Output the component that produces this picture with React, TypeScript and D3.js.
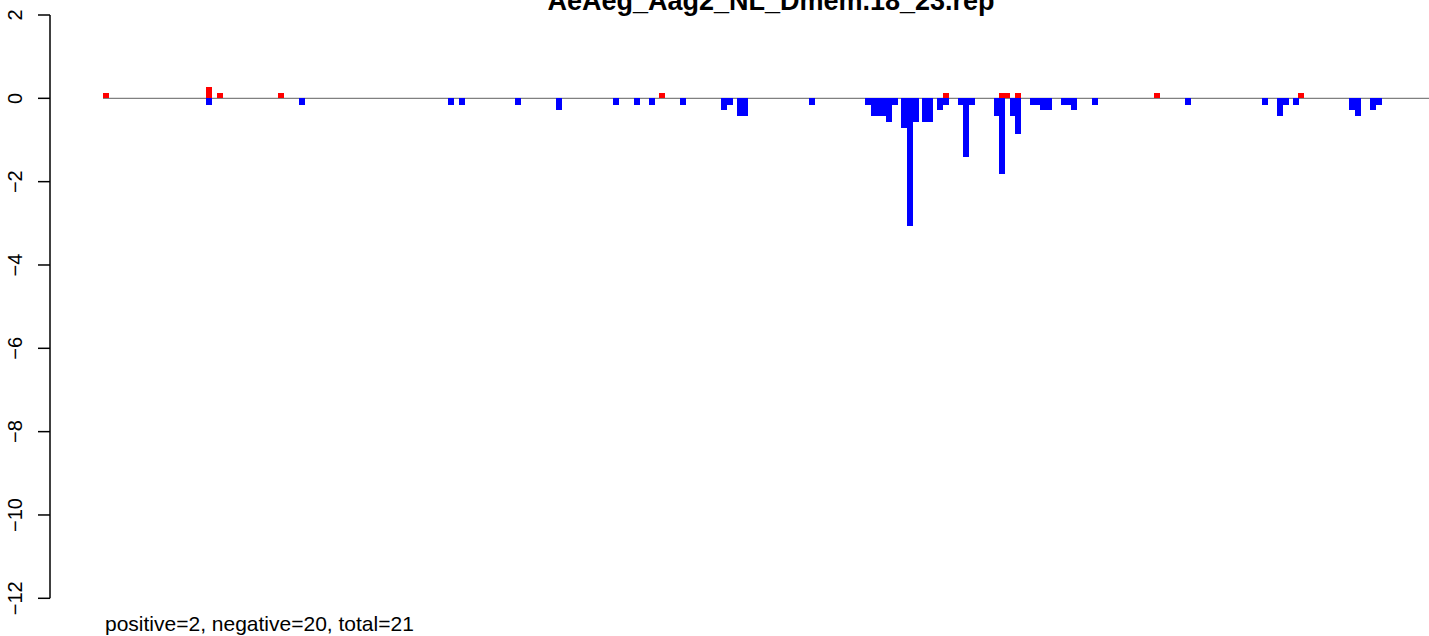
import React from "react";
import * as d3 from "d3";

const title = "AeAeg_Aag2_NL_Dmem.18_23.rep";
const footer = "positive=2, negative=20, total=21";
const yTicks = [2, 0, -2, -4, -6, -8, -10, -12];

// positive (sense) bars: start position, value
const posStarts = [53, 156, 167, 228, 609, 893, 949, 954, 965, 1104, 1248];
const posValues = [0.13, 0.27, 0.13, 0.13, 0.13, 0.13, 0.13, 0.13, 0.13, 0.13, 0.13];

// negative (antisense) bars: start position, value
const negStarts = [
  156, 249, 398, 409, 465, 506, 563, 584, 599, 630, 671, 677, 687, 692, 759,
  815, 821, 826, 831, 836, 842, 851, 857, 863, 872, 877, 887, 893, 908, 913,
  919, 944, 949, 960, 965, 980, 985, 990, 996, 1011, 1016, 1021, 1042, 1135,
  1212, 1227, 1233, 1243, 1299, 1305, 1320, 1326,
];
const negValues = [
  -0.15, -0.15, -0.15, -0.15, -0.15, -0.29, -0.15, -0.15, -0.15, -0.15, -0.29, -0.15, -0.43, -0.43, -0.15,
  -0.15, -0.43, -0.43, -0.43, -0.58, -0.15, -0.72, -3.07, -0.58, -0.58, -0.58, -0.29, -0.15, -0.15, -1.42,
  -0.15, -0.43, -1.82, -0.43, -0.86, -0.15, -0.15, -0.29, -0.29, -0.15, -0.15, -0.29, -0.15, -0.15,
  -0.15, -0.43, -0.15, -0.15, -0.29, -0.43, -0.29, -0.15,
];

const xDomain = [0, 1420];
const lineStart = 53;
const barWidth = 6;

export default function App() {
  const W = 1429;
  const H = 636;
  const x = d3.scaleLinear().domain(xDomain).range([50, 1470]);
  const y = d3.scaleLinear().domain([2, -12]).range([15, 598.3]);
  const font = "'Liberation Sans', Arial, Helvetica, sans-serif";
  const y0 = y(0);

  return (
    <svg
      width={W}
      height={H}
      style={{ position: "absolute", left: 0, top: 0, display: "block", background: "#fff" }}
      fontFamily={font}
    >
      <text x={771} y={10} textAnchor="middle" fontWeight="bold" fontSize={27} fill="#000">
        {title}
      </text>

      {/* baseline */}
      <line x1={x(lineStart)} x2={x(xDomain[1])} y1={y0} y2={y0} stroke="#808080" strokeWidth={1.3} />

      {/* bars */}
      <g shapeRendering="crispEdges">
        {posStarts.map((s, i) => (
          <rect
            key={"p" + i}
            x={x(s)}
            width={x(s + barWidth) - x(s)}
            y={y(posValues[i])}
            height={y0 - y(posValues[i])}
            fill="#ff0000"
          />
        ))}
        {negStarts.map((s, i) => (
          <rect
            key={"n" + i}
            x={x(s)}
            width={x(s + barWidth) - x(s)}
            y={y0}
            height={y(negValues[i]) - y0}
            fill="#0000ff"
          />
        ))}
      </g>

      {/* y axis */}
      <line x1={50} x2={50} y1={y(2)} y2={y(-12)} stroke="#000" strokeWidth={1.5} />
      {yTicks.map((t) => (
        <g key={t}>
          <line x1={38} x2={50} y1={y(t)} y2={y(t)} stroke="#000" strokeWidth={1.5} />
          <text
            transform={`translate(22,${y(t)}) rotate(-90)`}
            textAnchor="middle"
            fontSize={20}
            fill="#000"
          >
            {t < 0 ? "\u2212" + Math.abs(t) : String(t)}
          </text>
        </g>
      ))}

      <text x={105} y={631} fontSize={21} fill="#000">
        {footer}
      </text>
    </svg>
  );
}
